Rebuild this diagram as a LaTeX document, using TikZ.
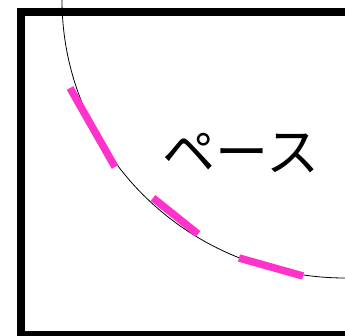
\documentclass[tikz,border=0pt]{standalone}
\usepackage{fontspec}
\newfontfamily\jpfont{Noto Sans CJK JP}
\definecolor{pacepink}{RGB}{255,51,204}

\begin{document}
\begin{tikzpicture}[x=1pt, y=1pt, font=\jpfont\fontsize{53}{53}\selectfont]
        \useasboundingbox (0,0) rectangle (345,336);
        \clip (0,0) rectangle (345,336);
        \draw[line width=8pt] (400,1) -- (21,1) -- (21,324) -- (400,324);
        \draw[line width=0.8pt] (345,336) ++(175:283 and 278) arc[start angle=175, end angle=275, x radius=283, y radius=278];
        \draw[pacepink, line width=7.5pt] (70,248) -- (115,169);
        \draw[pacepink, line width=7.5pt] (153,138) -- (198,102);
        \draw[pacepink, line width=7.5pt] (239,78) -- (303,60);
        \node[inner sep=0pt] (pace) at (241,183) {ペース};
    \end{tikzpicture}
\end{document}
